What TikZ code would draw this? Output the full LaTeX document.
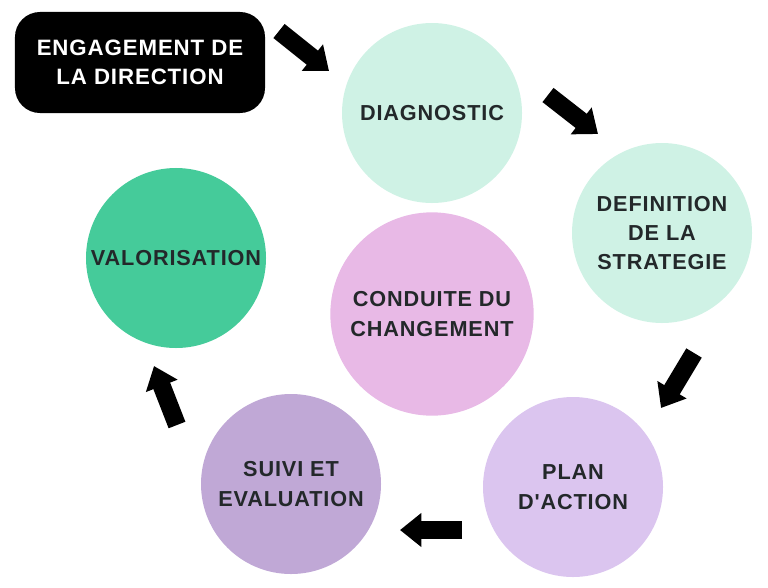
\documentclass[tikz,border=0pt]{standalone}
\usepackage{fontspec}
\setmainfont{Liberation Sans}
\usepackage{tikz}
\usetikzlibrary{arrows.meta,positioning}
\newfontfamily\labfont[LetterSpace=4]{Liberation Sans}
\definecolor{Ink}{HTML}{23282A}
\definecolor{Mint}{HTML}{CFF2E5}
\definecolor{Jade}{HTML}{45CB9A}
\definecolor{Orchid}{HTML}{E8B9E6}
\definecolor{Lilac}{HTML}{DBC5EF}
\definecolor{Mauve}{HTML}{C0A8D6}
\tikzset{
  stage/.style={circle,draw=none,minimum size=5.4cm,inner sep=0pt,align=center,
    text=Ink,font=\labfont\bfseries\fontsize{18.5}{25}\selectfont},
  hub/.style={stage,minimum size=6.1cm},
  lead/.style={rounded corners=0.75cm,fill=black,text=white,minimum width=7.5cm,
    minimum height=3.03cm,align=center,font=\labfont\bfseries\fontsize{19}{25}\selectfont},
  blockarrow/.style={line width=0.54cm,draw=black,-{Triangle[width=0.98cm,length=0.64cm]}}
}
\begin{document}
\begin{tikzpicture}[x=0.03cm,y=-0.03cm]
    \useasboundingbox (0,0) rectangle (768,587);
    \node[lead] (eng) at (140,62.5) {ENGAGEMENT DE\\LA DIRECTION};
    \node[stage,fill=Mint] (diag) at (432,113) {DIAGNOSTIC};
    \node[stage,fill=Mint] (strat) at (662,233) {DEFINITION\\DE LA\\STRATEGIE};
    \node[stage,fill=Lilac] (plan) at (573,487) {PLAN\\D'ACTION};
    \node[stage,fill=Mauve] (suivi) at (291,484) {SUIVI ET\\EVALUATION};
    \node[stage,fill=Jade] (valo) at (176,258) {VALORISATION};
    \node[hub,fill=Orchid] (cond) at (432,314) {CONDUITE DU\\CHANGEMENT};
    % free arrows between the stages
    \coordinate (a1) at (279,31);  \coordinate (b1) at (329,71);
    \coordinate (a2) at (548,95);  \coordinate (b2) at (598,134);
    \coordinate (a3) at (694,353); \coordinate (b3) at (661,408);
    \coordinate (a4) at (462,530); \coordinate (b4) at (400,530);
    \coordinate (a5) at (177,425); \coordinate (b5) at (154,366);
    \draw[blockarrow] (a1)--(b1);
    \draw[blockarrow] (a2)--(b2);
    \draw[blockarrow] (a3)--(b3);
    \draw[blockarrow] (a4)--(b4);
    \draw[blockarrow] (a5)--(b5);
  \end{tikzpicture}
\end{document}
